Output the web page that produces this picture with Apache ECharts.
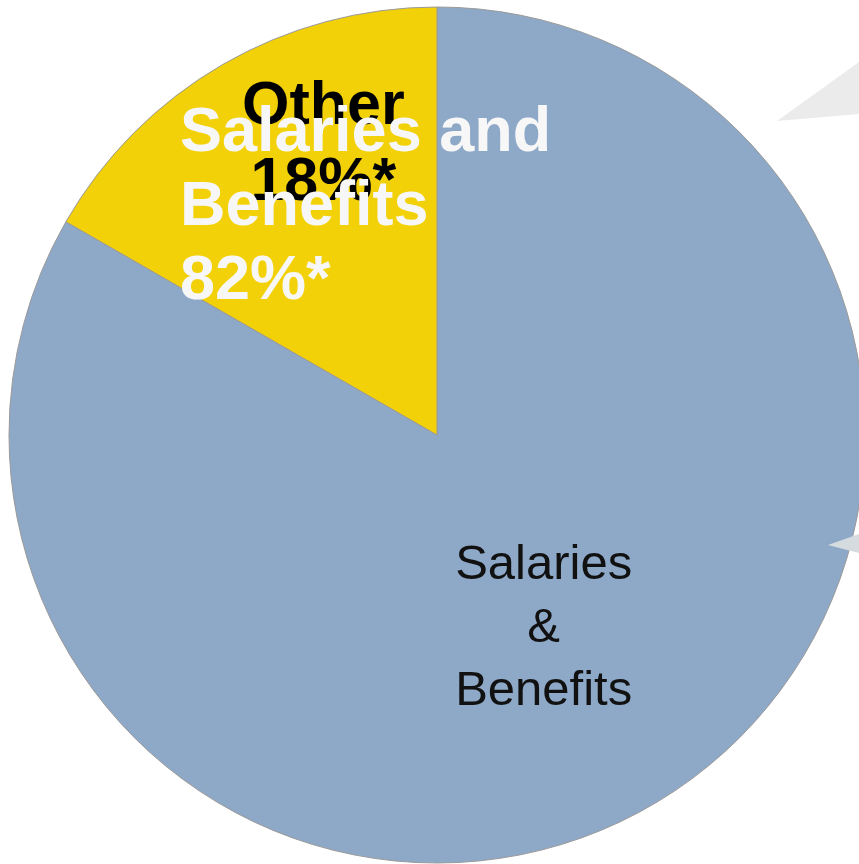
<!DOCTYPE html>
<html>
<head>
<meta charset="utf-8">
<script src="https://cdn.jsdelivr.net/npm/echarts@6/dist/echarts.min.js"></script>
<style>
  html, body { margin: 0; padding: 0; background: #fff; }
  #chart { width: 859px; height: 864px; }
</style>
</head>
<body>
<div id="chart"></div>
<script>
const categories = ['Salaries & Benefits', 'Other'];
const values = [83.3, 16.7];
const sliceLabels = ['Salaries\n&\nBenefits', 'Other\n18%*'];
const calloutLabel = 'Salaries and\nBenefits\n82%*';

const colors = ['#8ea8c7', '#f2d108'];

const chart = echarts.init(document.getElementById('chart'));

const option = {
  backgroundColor: '#ffffff',
  animation: false,
  graphic: [
    {
      // grey callout pointers cut at the right edge
      type: 'polygon',
      z: 100,
      shape: { points: [[777, 121], [859, 62], [859, 114]] },
      style: { fill: '#ebebeb' },
    },
    {
      type: 'polygon',
      z: 100,
      shape: { points: [[828, 545], [859, 534], [859, 553]] },
      style: { fill: '#d6dbe0' },
    },
    {
      type: 'text',
      z: 120,
      left: 180,
      top: 97,
      style: {
        text: calloutLabel,
        fill: '#f7f7f7',
        font: 'bold 63px "Liberation Sans", Arial, sans-serif',
        lineHeight: 74,
      },
    },
  ],
  series: [
    {
      type: 'pie',
      center: [437, 435],
      radius: 428,
      startAngle: 90,
      clockwise: true,
      silent: true,
      itemStyle: {
        borderColor: '#9a9a9a',
        borderWidth: 1,
      },
      labelLine: { show: false },
      data: categories.map((name, i) => ({
        name,
        value: values[i],
        itemStyle: { color: colors[i] },
        label: i === 0
          ? {
              show: true,
              position: 'inside',
              formatter: sliceLabels[i],
              color: '#111',
              fontFamily: '"Liberation Sans", Arial, sans-serif',
              fontSize: 49,
              lineHeight: 63,
              align: 'center',
              offset: [-2, 6],
            }
          : {
              show: true,
              position: 'inside',
              formatter: sliceLabels[i],
              color: '#000',
              fontFamily: '"Liberation Sans", Arial, sans-serif',
              fontWeight: 'bold',
              fontSize: 61,
              lineHeight: 76,
              align: 'center',
              offset: [-5, -102],
            },
      })),
    },
  ],
};

chart.setOption(option);
</script>
</body>
</html>
